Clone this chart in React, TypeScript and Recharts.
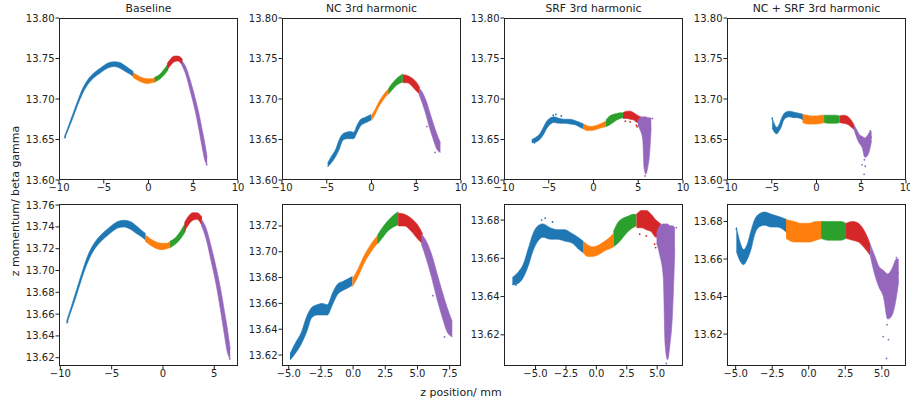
import { Area, ComposedChart, Scatter, XAxis, YAxis } from "recharts";

const COLORS = ["#1f77b4", "#ff7f0e", "#2ca02c", "#d62728", "#9467bd"];

// each band: [z position, lower, upper]
const baseBlue = [
    [-9.38, 13.651, 13.654], [-8.9, 13.664, 13.668], [-8.4, 13.678, 13.683],
    [-7.9, 13.693, 13.698], [-7.4, 13.706, 13.712], [-6.9, 13.716, 13.722],
    [-6.4, 13.723, 13.729], [-5.9, 13.728, 13.734], [-5.4, 13.732, 13.738],
    [-4.9, 13.736, 13.742], [-4.4, 13.739, 13.745], [-3.8, 13.740, 13.746],
    [-3.2, 13.738, 13.745], [-2.6, 13.734, 13.741], [-2.1, 13.731, 13.737],
    [-1.7, 13.728, 13.734],
];
const baseOrange = [
    [-1.75, 13.727, 13.733], [-1.2, 13.723, 13.729], [-0.6, 13.720, 13.726],
    [-0.1, 13.719, 13.725], [0.35, 13.720, 13.725], [0.75, 13.721, 13.727],
];
const baseGreen = [
    [0.7, 13.721, 13.727], [1.2, 13.724, 13.730], [1.7, 13.729, 13.736], [2.2, 13.736, 13.744],
];
const baseRed = [
    [2.1, 13.736, 13.744], [2.5, 13.742, 13.750], [2.9, 13.746, 13.753],
    [3.3, 13.747, 13.753], [3.8, 13.741, 13.749],
];
const basePurple = [
    [3.75, 13.741, 13.747], [4.2, 13.729, 13.739], [4.7, 13.708, 13.722],
    [5.2, 13.686, 13.702], [5.6, 13.664, 13.684], [6.0, 13.640, 13.662],
    [6.3, 13.624, 13.645], [6.55, 13.619, 13.628],
];

const ncBlue = [
    [-4.9, 13.616, 13.621], [-4.5, 13.621, 13.629], [-4.0, 13.629, 13.638],
    [-3.6, 13.638, 13.650], [-3.2, 13.649, 13.657], [-2.8, 13.651, 13.659],
    [-2.4, 13.651, 13.660], [-2.0, 13.651, 13.659], [-1.6, 13.659, 13.668],
    [-1.2, 13.667, 13.675], [-0.8, 13.670, 13.677], [-0.4, 13.672, 13.679],
    [-0.05, 13.674, 13.681],
];
const ncOrange = [
    [-0.05, 13.673, 13.679], [0.4, 13.681, 13.687], [0.8, 13.690, 13.696],
    [1.2, 13.697, 13.703], [1.6, 13.703, 13.709], [1.95, 13.707, 13.713],
];
const ncGreen = [
    [1.9, 13.706, 13.713], [2.3, 13.711, 13.719], [2.7, 13.716, 13.724],
    [3.1, 13.719, 13.728], [3.5, 13.721, 13.731],
];
const ncRed = [
    [3.5, 13.720, 13.730], [4.0, 13.720, 13.729], [4.5, 13.716, 13.726],
    [5.0, 13.710, 13.721], [5.4, 13.706, 13.714],
];
const ncPurple = [
    [5.3, 13.706, 13.714], [5.7, 13.694, 13.708], [6.1, 13.680, 13.698],
    [6.5, 13.664, 13.684], [6.9, 13.650, 13.670], [7.3, 13.638, 13.657],
    [7.7, 13.634, 13.646],
];

const srfBlue = [
    [-6.9, 13.646, 13.650], [-6.4, 13.647, 13.653], [-6.0, 13.650, 13.657],
    [-5.6, 13.656, 13.665], [-5.2, 13.664, 13.673], [-4.8, 13.669, 13.677],
    [-4.4, 13.671, 13.678], [-3.8, 13.670, 13.676], [-3.2, 13.670, 13.675],
    [-2.6, 13.669, 13.675], [-2.0, 13.668, 13.673], [-1.5, 13.665, 13.671],
    [-1.1, 13.663, 13.669],
];
const srfOrange = [
    [-1.1, 13.663, 13.669], [-0.7, 13.661, 13.667], [-0.3, 13.661, 13.666],
    [0.2, 13.662, 13.667], [0.7, 13.664, 13.669], [1.1, 13.665, 13.671],
    [1.4, 13.666, 13.673],
];
const srfGreen = [
    [1.4, 13.666, 13.674], [1.8, 13.668, 13.679], [2.2, 13.671, 13.681],
    [2.6, 13.674, 13.682], [3.0, 13.676, 13.683], [3.3, 13.677, 13.683],
];
const srfRed = [
    [3.3, 13.676, 13.683], [3.7, 13.676, 13.685], [4.1, 13.675, 13.685],
    [4.5, 13.674, 13.683], [4.9, 13.671, 13.680], [5.3, 13.672, 13.678],
];
const srfPurple = [
    [4.95, 13.668, 13.673], [5.2, 13.662, 13.677], [5.5, 13.650, 13.678],
    [5.65, 13.615, 13.678], [5.85, 13.607, 13.678], [6.05, 13.615, 13.677],
    [6.25, 13.630, 13.677], [6.45, 13.665, 13.676],
];

const bothBlue = [
    [-4.95, 13.664, 13.677], [-4.7, 13.659, 13.669], [-4.45, 13.657, 13.665],
    [-4.2, 13.660, 13.668], [-3.95, 13.665, 13.675], [-3.7, 13.673, 13.681],
    [-3.4, 13.677, 13.684], [-3.0, 13.678, 13.685], [-2.6, 13.677, 13.684],
    [-2.2, 13.677, 13.683], [-1.8, 13.676, 13.682], [-1.5, 13.674, 13.681],
];
const bothOrange = [
    [-1.55, 13.671, 13.681], [-1.0, 13.669, 13.680], [-0.5, 13.669, 13.679],
    [0.0, 13.669, 13.679], [0.5, 13.670, 13.680], [0.9, 13.671, 13.680],
];
const bothGreen = [
    [0.85, 13.671, 13.680], [1.3, 13.670, 13.680], [1.8, 13.670, 13.680],
    [2.2, 13.670, 13.680], [2.55, 13.671, 13.679],
];
const bothRed = [
    [2.55, 13.671, 13.679], [3.0, 13.670, 13.680], [3.4, 13.669, 13.679],
    [3.8, 13.666, 13.675], [4.2, 13.662, 13.668],
];
const bothPurple = [
    [4.2, 13.662, 13.668], [4.5, 13.652, 13.662], [4.8, 13.645, 13.656],
    [5.1, 13.640, 13.654], [5.4, 13.628, 13.652], [5.7, 13.630, 13.655],
    [6.0, 13.640, 13.660], [6.15, 13.648, 13.660],
];

// stray particles outside the main bands: [z position, value, colour index]
const baseStray = [[6.5, 13.619, 4], [-9.3, 13.653, 0]];
const ncStray = [[7.1, 13.634, 4], [6.2, 13.666, 4]];
const srfStray = [
    [-4.5, 13.680, 0], [-4.2, 13.681, 0], [-3.6, 13.679, 0], [-6.6, 13.646, 0],
    [3.56, 13.6726, 3], [4.1, 13.6717, 3], [4.79, 13.6674, 3], [4.87, 13.6656, 3],
    [6.57, 13.676, 4], [5.75, 13.605, 4],
];
const bothStray = [
    [-4.95, 13.676, 0], [5.09, 13.6187, 4], [5.32, 13.607, 4], [5.45, 13.617, 4],
    [5.35, 13.625, 4], [6.11, 13.6527, 4], [6.0, 13.6607, 4],
];

const datasets = [
    [baseBlue, baseOrange, baseGreen, baseRed, basePurple],
    [ncBlue, ncOrange, ncGreen, ncRed, ncPurple],
    [srfBlue, srfOrange, srfGreen, srfRed, srfPurple],
    [bothBlue, bothOrange, bothGreen, bothRed, bothPurple],
];
const strays = [baseStray, ncStray, srfStray, bothStray];

const titles = ["Baseline", "NC 3rd harmonic", "SRF 3rd harmonic", "NC + SRF 3rd harmonic"];

const topXTicks = [-10, -5, 0, 5, 10];
const topYTicks = [13.6, 13.65, 13.7, 13.75, 13.8];

const bottomXDomains = [[-10.13, 7.31], [-5.52, 8.38], [-7.59, 7.12], [-5.59, 6.65]];
const bottomYDomains = [[13.6124, 13.761], [13.6115, 13.737], [13.6037, 13.6884], [13.603, 13.6893]];
const bottomXTicks = [
    [-10, -5, 0, 5],
    [-5, -2.5, 0, 2.5, 5, 7.5],
    [-5, -2.5, 0, 2.5, 5],
    [-5, -2.5, 0, 2.5, 5],
];
const bottomYTicks = [
    [13.62, 13.64, 13.66, 13.68, 13.7, 13.72, 13.74, 13.76],
    [13.62, 13.64, 13.66, 13.68, 13.7, 13.72],
    [13.62, 13.64, 13.66, 13.68],
    [13.62, 13.64, 13.66, 13.68],
];

const PLOT_LEFT = [59, 282, 504, 727];
const TOP_Y = 18;
const BOTTOM_Y = 204;
const PW = 179;
const PH = 162;
const FONT = "'DejaVu Sans', sans-serif";

const fmt = (dec: number) => (v: number) => (v < 0 ? "\u2212" : "") + Math.abs(v).toFixed(dec);

const Dot = (props) => {
    const { cx, cy, payload } = props;
    return <circle cx={cx} cy={cy} r={0.9} fill={COLORS[payload.c]} />;
};

const Panel = ({ left, top, bands, stray, xDomain, yDomain, xTicks, yTicks, xDec }) => {
    const tickStyle = { fontSize: 10, fill: "#222", fontFamily: FONT };
    return (
        <>
            <div style={{ position: "absolute", left: left - 50, top: top - 10 }}>
                <ComposedChart
                    width={PW + 64}
                    height={PH + 40}
                    margin={{ top: 10, right: 14, bottom: 0, left: 0 }}
                >
                    <XAxis
                        type="number"
                        dataKey="x"
                        domain={xDomain}
                        ticks={xTicks}
                        allowDataOverflow
                        height={30}
                        tickSize={3.5}
                        tickMargin={0}
                        axisLine={false}
                        tickLine={{ stroke: "#222" }}
                        tick={tickStyle}
                        tickFormatter={fmt(xDec)}
                        interval={0}
                    />
                    <YAxis
                        type="number"
                        dataKey="y"
                        domain={yDomain}
                        ticks={yTicks}
                        allowDataOverflow
                        width={50}
                        tickSize={3.5}
                        tickMargin={1}
                        axisLine={false}
                        tickLine={{ stroke: "#222" }}
                        tick={tickStyle}
                        tickFormatter={fmt(2)}
                        interval={0}
                    />
                    {bands.map((band, i) => (
                        <Area
                            key={i}
                            data={band.map(([x, lo, hi]) => ({ x, y: [lo, hi] }))}
                            dataKey="y"
                            type="monotone"
                            stroke={COLORS[i]}
                            strokeWidth={0.6}
                            fill={COLORS[i]}
                            fillOpacity={1}
                            dot={false}
                            activeDot={false}
                            isAnimationActive={false}
                        />
                    ))}
                    <Scatter
                        data={stray.map(([x, y, c]) => ({ x, y, c }))}
                        dataKey="y"
                        shape={Dot}
                        isAnimationActive={false}
                    />
                </ComposedChart>
            </div>
            <div
                style={{
                    position: "absolute",
                    left,
                    top,
                    width: PW,
                    height: PH,
                    boxSizing: "border-box",
                    border: "1px solid #222",
                    pointerEvents: "none",
                }}
            />
        </>
    );
};

export default function App() {
    return (
        <div
            style={{
                position: "relative",
                width: 910,
                height: 402,
                overflow: "hidden",
                background: "#fff",
                fontFamily: FONT,
                color: "#222",
            }}
        >
            <style>{`body { margin: 0; }`}</style>
            {titles.map((t, i) => (
                <div
                    key={t}
                    style={{
                        position: "absolute",
                        left: PLOT_LEFT[i],
                        width: PW,
                        top: 2,
                        textAlign: "center",
                        fontSize: 10.8,
                        lineHeight: "14px",
                    }}
                >
                    {t}
                </div>
            ))}
            {datasets.map((bands, i) => (
                <Panel
                    key={"top" + i}
                    left={PLOT_LEFT[i]}
                    top={TOP_Y}
                    bands={bands}
                    stray={strays[i]}
                    xDomain={[-10, 10]}
                    yDomain={[13.6, 13.8]}
                    xTicks={topXTicks}
                    yTicks={topYTicks}
                    xDec={0}
                />
            ))}
            {datasets.map((bands, i) => (
                <Panel
                    key={"bottom" + i}
                    left={PLOT_LEFT[i]}
                    top={BOTTOM_Y}
                    bands={bands}
                    stray={strays[i]}
                    xDomain={bottomXDomains[i]}
                    yDomain={bottomYDomains[i]}
                    xTicks={bottomXTicks[i]}
                    yTicks={bottomYTicks[i]}
                    xDec={i === 0 ? 0 : 1}
                />
            ))}
            <div
                style={{
                    position: "absolute",
                    left: 15,
                    top: 201,
                    transform: "translate(-50%, -50%) rotate(-90deg)",
                    whiteSpace: "nowrap",
                    fontSize: 11,
                }}
            >
                z momentum/ beta gamma
            </div>
            <div
                style={{
                    position: "absolute",
                    left: 461,
                    top: 392,
                    transform: "translate(-50%, -50%)",
                    whiteSpace: "nowrap",
                    fontSize: 11,
                }}
            >
                z position/ mm
            </div>
        </div>
    );
}
